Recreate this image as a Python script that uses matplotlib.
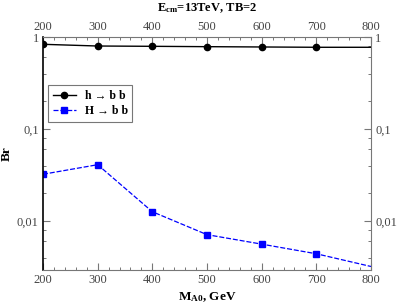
import numpy as np
import matplotlib
matplotlib.use("Agg")
import matplotlib.pyplot as plt
from matplotlib.ticker import FixedLocator, FuncFormatter, MultipleLocator

plt.rcParams['font.family'] = ['Liberation Serif', 'DejaVu Serif']
plt.rcParams['mathtext.fontset'] = 'custom'
plt.rcParams['mathtext.rm'] = 'Liberation Serif'
plt.rcParams['mathtext.bf'] = 'Liberation Serif:bold'

### Données
mass = [200, 300, 400, 500, 600, 700, 800]
br_h = [0.833, 0.798, 0.792, 0.785, 0.779, 0.773, 0.773]
br_H = [0.0322, 0.0409, 0.0126, 0.0071, 0.0056, 0.0044, 0.0032]
ytick_vals = [0.01, 0.1, 1]
ytick_labels = ["0,01", "0,1", "1"]

fig = plt.figure(figsize=(4.15, 3.08), dpi=100)
ax = fig.add_axes([43/415, 1-270/308, 328/415, 233/308])

ax.plot(mass, br_h, color='black', lw=1.0, marker='o', ms=4.5,
        markevery=slice(0, -1), label='h \u2192 b b')
ax.plot(mass, br_H, color='#0000ff', lw=0.9, ls=(0, (4, 1.5)), marker='s', ms=4.5,
        markevery=slice(0, -1), label='H \u2192 b b')

ax.set_yscale('log')
ax.set_xlim(200, 800)
ax.set_ylim(10**-2.533, 1)

ax.yaxis.set_major_locator(FixedLocator(ytick_vals))
minor = [m * 10.0**e for e in (-3, -2, -1) for m in (2, 4, 6, 8)]
ax.yaxis.set_minor_locator(FixedLocator(minor))
lab = dict(zip(ytick_vals, ytick_labels))
ax.yaxis.set_major_formatter(FuncFormatter(lambda v, p: lab.get(round(v, 4), "")))
ax.yaxis.set_minor_formatter(FuncFormatter(lambda v, p: ""))

ax.xaxis.set_major_locator(MultipleLocator(100))
ax.xaxis.set_minor_locator(MultipleLocator(20))

ax.tick_params(which='both', direction='in', top=True, right=True,
               labeltop=True, labelright=True, colors='#777777',
               labelcolor='#444444', labelsize=9)
ax.tick_params(which='major', length=5, width=0.8, pad=3)
ax.tick_params(which='minor', length=2.5, width=0.7)
for s in ('top', 'right', 'bottom'):
    ax.spines[s].set_color('#777777')
    ax.spines[s].set_linewidth(0.8)
ax.spines['left'].set_color('black')
ax.spines['left'].set_linewidth(1.2)

ax.set_xlabel(r'$\mathbf{M_{A0}}$, GeV', fontweight='bold', fontsize=9.5, labelpad=3)
ax.set_ylabel('Br', fontweight='bold', fontsize=9.5)
ax.yaxis.set_label_coords(-30/328, 0.5)
fig.text(0.5, 1-8/308, r'$\mathbf{E_{cm}}$=13TeV, TB=2', ha='center', va='center',
         fontweight='bold', fontsize=9)

leg = ax.legend(loc='upper left', bbox_to_anchor=(0.015, 0.794),
                prop={'size': 8.5, 'weight': 'bold'},
                fancybox=False, edgecolor='#777777', framealpha=1, borderaxespad=0,
                handlelength=2.0, borderpad=0.4, labelspacing=0.3, handletextpad=0.7)
leg.get_frame().set_linewidth(0.8)

fig.savefig('out.png', dpi=100)
